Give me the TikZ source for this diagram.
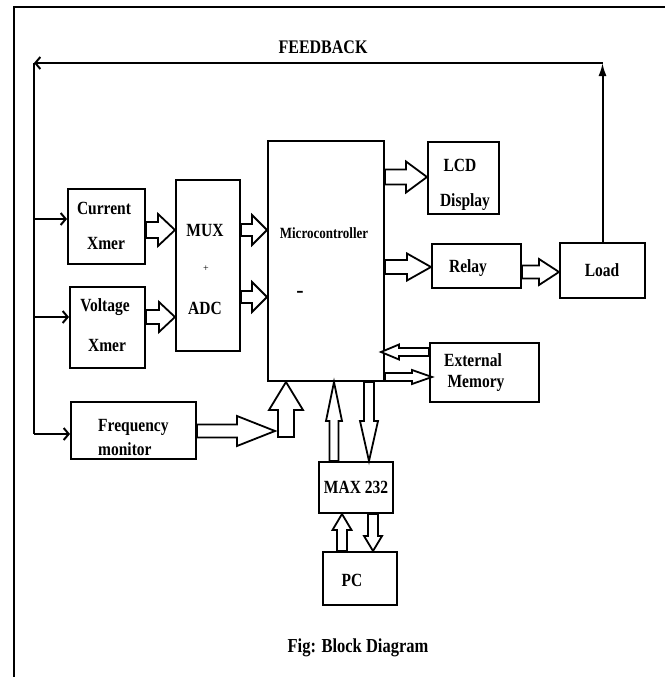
\documentclass[tikz,border=0pt]{standalone}
\usepackage{fontspec}
\setmainfont{Liberation Serif}
\usetikzlibrary{arrows.meta,calc}
\newcommand\tall[1]{\scalebox{1}[1.2]{#1}}
\tikzset{
  blk/.style={draw, line width=2pt, inner sep=0pt},
  lbl/.style={font=\fontsize{15.5}{16}\selectfont\bfseries, inner sep=0pt},
  thinln/.style={line width=2pt},
  barb/.style={thinln, -{Straight Barb[length=5pt,width=12pt,line width=2pt]}},
  uptip/.style={thinln, -{Latex[length=13pt,width=8pt]}},
  harrow/.style={draw, line width=1.8pt, fill=white, line join=miter},
}
\newcommand\HA[5]{%
  \coordinate (haA) at #1;
  \coordinate (haB) at #2;
  \coordinate (haH) at ($(haB)!#5!(haA)$);
  \draw[harrow] ($(haA)!#3!90:(haB)$) -- ($(haH)!#3!-90:(haA)$) -- ($(haH)!#4!-90:(haA)$) -- (haB)
     -- ($(haH)!#4!90:(haA)$) -- ($(haH)!#3!90:(haA)$) -- ($(haA)!#3!-90:(haB)$) -- cycle;
}
\begin{document}
\begin{tikzpicture}[x=1pt,y=-1pt]
\useasboundingbox (0,0) rectangle (664,677);
% outer frame
\draw[line width=2.6pt] (666,7) -- (14,7) -- (14,679);

% blocks
\node[blk, minimum width=77pt, minimum height=75pt] (cur) at (106.5,226.5) {};
\node[blk, minimum width=75pt, minimum height=81pt] (vol) at (107.5,327.5) {};
\node[blk, minimum width=64pt, minimum height=171pt] (mux) at (208,265.5) {};
\node[blk, minimum width=116pt, minimum height=240pt] (mcu) at (326,261) {};
\node[blk, minimum width=71pt, minimum height=72pt] (lcd) at (463.5,178) {};
\node[blk, minimum width=89pt, minimum height=44pt] (relay) at (476.5,266) {};
\node[blk, minimum width=85pt, minimum height=55pt] (load) at (602.5,270.5) {};
\node[blk, minimum width=109pt, minimum height=59pt] (ext) at (484.5,372.5) {};
\node[blk, minimum width=125pt, minimum height=57pt] (freq) at (133.5,430.5) {};
\node[blk, minimum width=74pt, minimum height=51pt] (max) at (356,487.5) {};
\node[blk, minimum width=74pt, minimum height=53pt] (pc) at (360,578.5) {};

% labels
\node[lbl] (curA) at (104,208) {\tall{Current}};
\node[lbl] (curB) at (106,243) {\tall{Xmer}};
\node[lbl] (volA) at (105,307) {\tall{Voltage}};
\node[lbl] (volB) at (107,345) {\tall{Xmer}};
\node[lbl] (muxA) at (205,230) {\tall{MUX}};
\node[lbl, font=\fontsize{10}{11}\selectfont] (muxB) at (206,269) {+};
\node[lbl] (muxC) at (205,308) {\tall{ADC}};
\node[lbl, font=\fontsize{13}{14}\selectfont\bfseries] (mcuA) at (324,233) {\tall{Microcontroller}};
\node[lbl, font=\fontsize{22}{22}\selectfont\bfseries] (mcuB) at (300,294) {-};
\node[lbl] (lcdA) at (460,165) {\tall{LCD}};
\node[lbl] (lcdB) at (465,202) {\tall{Display}};
\node[lbl] (relayA) at (468,268) {\tall{Relay}};
\node[lbl] (loadA) at (602,270) {\tall{Load}};
\node[lbl] (extA) at (473,360) {\tall{External}};
\node[lbl] (extB) at (476,383) {\tall{Memory}};
\node[lbl, anchor=west] (freqA) at (98,427) {\tall{Frequency}};
\node[lbl, anchor=west] (freqB) at (98,449) {\tall{monitor}};
\node[lbl] (maxA) at (356,487) {\tall{MAX 232}};
\node[lbl] (pcA) at (352,580) {\tall{PC}};
\node[lbl, font=\fontsize{16}{17}\selectfont\bfseries] (fbT) at (323,47) {\tall{FEEDBACK}};
\node[lbl, font=\fontsize{16.5}{17}\selectfont\bfseries] (cap) at (358,648) {\tall{Fig: Block Diagram}};

% feedback loop
\coordinate (fbL) at (34,63);
\coordinate (fbB) at (34,434);
\draw[uptip] (load.north) -- (load.north |- fbL);
\draw[barb] (load.north |- fbL) -- (fbL);
\draw[thinln] (fbL) -- (fbB);
\draw[barb] (fbB) -- (freq.west |- fbB);
\draw[barb] (fbL |- 0,219) -- (cur.west |- 0,219);
\draw[barb] (fbL |- 0,317) -- (vol.west |- 0,317);

% hollow (bus) arrows
\HA{(cur.east |- 0,230)}{(mux.west |- 0,230)}{8pt}{16pt}{17pt}
\HA{(vol.east |- 0,317)}{(mux.west |- 0,317)}{7pt}{15pt}{16pt}
\HA{(mux.east |- 0,230)}{(mcu.west |- 0,230)}{6pt}{15pt}{15pt}
\HA{(mux.east |- 0,297)}{(mcu.west |- 0,297)}{6pt}{15pt}{15pt}
\HA{(mcu.east |- 0,177)}{(lcd.west |- 0,177)}{7.5pt}{15.5pt}{21pt}
\HA{(mcu.east |- 0,267)}{(relay.west |- 0,267)}{7pt}{13.5pt}{24pt}
\HA{(relay.east |- 0,272)}{(load.west |- 0,272)}{6.5pt}{13pt}{20pt}
\HA{(ext.west |- 0,352)}{($(mcu.east |- 0,352)+(-4,0)$)}{4pt}{7.5pt}{18pt}
\HA{(mcu.east |- 0,377)}{($(ext.west |- 0,377)+(3,0)$)}{4pt}{7pt}{20pt}
\coordinate (fjoin) at (286,437);
\HA{(freq.east |- 0,431)}{($(fjoin |- 0,431)+(-11,0)$)}{6.5pt}{15pt}{38pt}
\HA{(fjoin)}{(mcu.south -| fjoin)}{8pt}{17pt}{28pt}
\HA{(max.north -| 334,0)}{(mcu.south -| 334,0)}{4.5pt}{8pt}{39pt}
\HA{(mcu.south -| 369,0)}{(max.north -| 369,0)}{5pt}{9pt}{40pt}
\HA{(pc.north -| 342,0)}{(max.south -| 342,0)}{5pt}{9.5pt}{16pt}
\HA{(max.south -| 373,0)}{(pc.north -| 373,0)}{5pt}{9pt}{15pt}
\end{tikzpicture}
\end{document}
